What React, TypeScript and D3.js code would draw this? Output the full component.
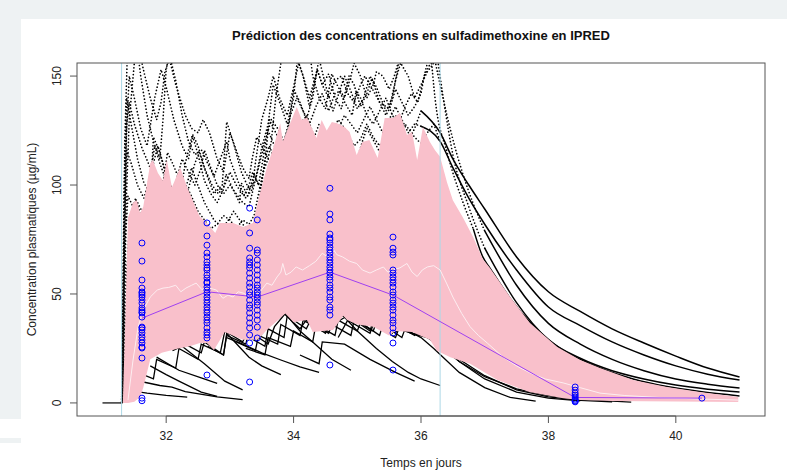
import React from 'react';
import * as d3 from 'd3';

type P = [number, number];

const chartTitle = 'Prédiction des concentrations en sulfadimethoxine en IPRED';
const xLabel = 'Temps en jours';
const yLabel = 'Concentration plasmatiques (µg/mL)';
const xTicks = [32, 34, 36, 38, 40];
const yTicks = [0, 50, 100, 150];
const doseWindow = [31.3, 36.3];
const preDoseLine: P[] = [[31.0, 0], [31.3, 0]];

// 90% prediction interval (upper and lower bounds)
const piUpper: P[] = [[31.32,0],[31.36,40],[31.40,85],[31.48,92],[31.54,93],[31.59,87],[31.64,90],[31.75,110],[31.79,111.5],[31.87,105.5],[31.95,102],[32.01,111.5],[32.09,99],[32.22,108],[32.33,99],[32.48,88.5],[32.53,85.4],[32.64,82.6],[32.77,78],[32.84,82.6],[33.05,82.6],[33.21,80.7],[33.36,82.6],[33.47,96],[33.58,108],[33.68,117],[33.79,128.4],[33.83,120],[33.90,125],[34.05,135.8],[34.13,129.8],[34.21,131],[34.36,121.6],[34.44,129.8],[34.52,125],[34.60,128.9],[34.68,128.4],[34.80,126.6],[34.88,124.3],[34.99,113.8],[35.08,119.8],[35.19,120.7],[35.32,112.4],[35.43,130.8],[35.56,130.8],[35.67,133],[35.78,123],[35.86,124.3],[35.94,111.5],[36.03,126.6],[36.14,119.8],[36.22,116],[36.30,113],[36.41,101],[36.50,93],[36.66,85],[36.82,76],[36.97,66],[37.08,62],[37.40,48.6],[37.71,36.7],[38.14,25.7],[38.50,19.7],[38.81,16],[39.33,10.5],[39.86,7.3],[40.38,5],[40.98,2.7]];
const piLower: P[] = [[31.32,0],[31.40,0],[31.50,0.5],[31.59,2.7],[31.64,7],[31.75,20],[31.93,23],[32.19,25],[32.37,26],[32.53,27.5],[32.64,27.5],[32.75,24.3],[32.92,32.6],[33.20,29],[33.43,29],[33.58,33.5],[33.83,40],[33.87,41],[34.00,37],[34.21,38],[34.30,32.5],[34.62,33.5],[34.78,40],[34.84,38],[35.00,36],[35.25,35],[35.50,31],[35.60,33],[35.86,32.6],[36.14,29],[36.25,24],[36.46,21],[36.77,18],[37.20,10.5],[37.70,5],[38.23,2.2],[38.50,1.3],[39.00,0.9],[40.00,0.6],[40.98,0.4]];

// median of predictions
const predMedian: P[] = [[31.40,1.3],[31.48,19.7],[31.56,35],[31.64,42.6],[31.75,48.6],[31.86,51.8],[31.95,52.7],[32.04,53],[32.15,54],[32.23,51],[32.31,52.7],[32.40,54],[32.47,55],[32.56,52],[32.64,53],[32.79,51.8],[32.89,48],[32.97,49.5],[33.05,48.6],[33.13,51],[33.21,50.4],[33.32,48.5],[33.43,49.5],[33.50,52],[33.58,55],[33.66,54],[33.74,57.8],[33.80,60],[33.83,64],[33.88,58.7],[33.96,60],[34.04,62.4],[34.14,61],[34.25,63],[34.35,65],[34.45,68.7],[34.53,67],[34.61,71],[34.68,68],[34.77,67],[34.88,65],[34.99,64],[35.08,61],[35.20,59.6],[35.30,61],[35.41,62.4],[35.48,60],[35.56,61],[35.67,62],[35.78,64],[35.86,60],[35.94,58],[36.02,61],[36.10,62.4],[36.20,63],[36.30,61],[36.40,55],[36.50,48.6],[36.64,41],[36.77,35],[36.90,31],[37.04,27.5],[37.29,21],[37.50,17],[37.71,13.8],[37.95,11],[38.23,9.2],[38.50,7],[38.81,4.5],[39.20,3.4],[39.80,2.4],[40.38,1.8],[40.98,1.3]];

// observed concentrations
const obsTimes = [31.62, 32.64, 33.31, 33.43, 34.57, 35.56, 38.42, 40.41];
const obsDay31: number[] = [73.4,65.1,56.4,52.7,50.9,50.4,49.5,48.6,47.2,45.8,43.6,42.6,41.7,41.3,39.4,34.8,34.4,33.5,32.1,30.3,28.9,27.5,25.6,25.2,20.6,2.2,1.0];
const obsDay32: number[] = [82.6,76.6,72.4,68.8,67,64.7,63.3,61.9,61,58.7,57.3,55.5,55,53.2,51.8,50.4,48.6,47.2,45.8,44,42.6,41.3,39.4,38,36.7,34.4,32.5,31.2,29.8,12.8];
const obsDay33a: number[] = [89.4,78,71,66.5,64.7,63.3,61.9,59.6,57.3,55,53.2,50.9,49.5,47.2,44.9,43.5,41.3,39,36.7,34.4,31.2,27.5,9.6];
const obsDay33b: number[] = [84,70.2,68.8,65.6,63.3,61,58.7,56.4,54.1,52.7,50.9,49.5,48.1,46.3,44.9,42.6,40.3,38,34.8,29.8];
const obsDay34: number[] = [98.5,86.7,84,77.5,75.7,74.8,73.4,71.5,70.2,68.8,67,65.6,64.2,62.4,61,59.6,57.8,56.4,54.1,52.7,50.9,48.6,47.2,44,42.6,40.3,17.4];
const obsDay35: number[] = [76.1,71,69.2,67.9,61,59.6,57.8,56.4,55,53.2,50.9,49.5,47.2,45.8,44,42.6,40.3,38,36.7,34.4,32.1,27.5,15.1];
const obsDay38: number[] = [7.3,5.9,4.5,3.6,2.7,1.8,1.2,0.8,0.5];
const obsDay40: number[] = [2.2];
const obsValues = [obsDay31, obsDay32, obsDay33a, obsDay33b, obsDay34, obsDay35, obsDay38, obsDay40];
const obsMedian: P[] = [[31.62,38.9],[32.64,51],[33.43,48.6],[34.57,60],[35.56,49.5],[38.42,2.5],[40.41,2.2]];

// individual predicted profiles (high)
const indivU1: P[] = [[31.30,0],[31.34,100],[31.38,140],[31.45,128],[31.55,112],[31.65,101],[31.75,96],[31.80,110],[31.87,118],[31.95,110],[32.05,100],[32.15,94],[32.25,90],[32.32,100],[32.40,108],[32.47,102],[32.60,92],[32.75,84],[32.88,80],[32.98,84],[33.06,88],[33.20,82],[33.35,78],[33.45,90],[33.55,112],[33.62,118],[33.75,108],[33.85,104],[33.95,120],[34.03,130],[34.15,122],[34.30,114],[34.45,110],[34.55,120],[34.62,128],[34.75,122],[34.90,116],[35.00,112],[35.08,120],[35.15,126],[35.30,118],[35.45,110],[35.55,114],[35.65,124],[35.75,128],[35.90,122],[36.00,119],[36.10,124],[36.20,128],[36.30,120]];
const indivU2: P[] = [[31.32,0],[31.37,120],[31.42,150],[31.50,140],[31.60,126],[31.70,118],[31.82,140],[31.92,153],[32.00,145],[32.12,130],[32.25,118],[32.35,112],[32.42,123],[32.50,118],[32.62,106],[32.75,96],[32.88,100],[32.95,129],[33.05,120],[33.18,106],[33.30,98],[33.40,102],[33.50,117],[33.60,128],[33.68,146],[33.78,138],[33.90,128],[34.00,140],[34.06,158],[34.15,150],[34.25,136],[34.35,150],[34.40,158],[34.50,146],[34.62,134],[34.72,143],[34.80,150],[34.90,143],[35.00,135],[35.10,140],[35.20,150],[35.30,145],[35.45,134],[35.55,140],[35.65,156],[35.70,162]];
const indivU3: P[] = [[31.31,0],[31.35,70],[31.40,95],[31.48,90],[31.52,94],[31.60,86],[31.70,82],[31.76,100],[31.80,122],[31.90,115],[32.00,104],[32.10,98],[32.20,92],[32.30,110],[32.41,123],[32.50,114],[32.60,102],[32.70,96],[32.80,92],[32.90,98],[32.94,105],[33.05,98],[33.15,92],[33.18,101],[33.28,95],[33.38,105],[33.48,98],[33.55,110],[33.60,125],[33.70,118],[33.80,112],[33.90,110],[34.00,118],[34.10,128],[34.21,132],[34.30,124],[34.40,118],[34.50,116],[34.60,124],[34.70,130],[34.80,126],[34.95,118],[35.05,121],[35.15,128],[35.25,122],[35.35,118],[35.50,125],[35.60,132],[35.70,126],[35.80,120],[35.90,126],[36.00,134]];
const indivU4: P[] = [[31.33,0],[31.37,90],[31.42,130],[31.50,156],[31.55,162],[31.60,150],[31.70,132],[31.80,120],[31.90,112],[31.95,130],[32.00,153],[32.05,160],[32.15,148],[32.25,132],[32.35,120],[32.45,114],[32.56,116],[32.65,110],[32.75,104],[32.85,112],[32.95,120],[33.00,112],[33.15,100],[33.25,94],[33.35,98],[33.40,110],[33.50,130],[33.60,140],[33.68,150],[33.78,140],[33.90,132],[34.00,145],[34.08,156],[34.15,150],[34.25,140],[34.37,153],[34.45,146],[34.55,151],[34.65,140],[34.75,135],[34.87,150],[34.95,146],[35.05,136],[35.15,142],[35.23,149],[35.35,138],[35.50,135],[35.60,148],[35.68,156],[35.80,150],[35.90,140],[36.00,146],[36.10,152],[36.20,156],[36.25,160]];
const indivU5: P[] = [[31.34,0],[31.38,60],[31.42,80],[31.50,88],[31.55,92],[31.62,88],[31.72,84],[31.80,88],[31.88,92],[31.95,86],[32.05,82],[32.15,80],[32.22,92],[32.30,100],[32.38,96],[32.50,88],[32.60,84],[32.70,80],[32.80,82],[32.90,86],[33.00,84],[33.10,80],[33.20,84],[33.30,82],[33.38,86],[33.45,96],[33.52,106],[33.60,112],[33.70,108],[33.80,104],[33.90,112],[34.00,126],[34.10,120],[34.20,114],[34.30,120],[34.40,128],[34.50,124],[34.60,118],[34.70,126],[34.80,132],[34.90,128],[35.00,124],[35.10,130],[35.20,136],[35.30,130],[35.40,124],[35.50,130],[35.60,136],[35.70,130],[35.80,124],[35.90,128],[36.00,127]];
const indivU6: P[] = [[31.30,0],[31.34,80],[31.38,116],[31.45,110],[31.55,100],[31.65,94],[31.75,104],[31.82,118],[31.90,110],[32.00,102],[32.10,96],[32.17,103],[32.25,112],[32.35,106],[32.45,100],[32.55,108],[32.60,116],[32.70,108],[32.80,100],[32.90,96],[33.00,100],[33.10,96],[33.20,92],[33.30,90],[33.38,100],[33.45,108],[33.55,120],[33.65,130],[33.75,126],[33.85,120],[33.95,132],[34.05,140],[34.15,134],[34.25,128],[34.35,136],[34.45,142],[34.55,134],[34.65,142],[34.72,143],[34.82,137],[34.92,132],[34.98,143],[35.05,140],[35.15,132],[35.25,128],[35.35,134],[35.45,140],[35.55,132],[35.65,128],[35.75,136],[35.85,142],[35.95,138],[36.05,150],[36.15,156],[36.20,160]];
const indivU7: P[] = [[31.32,0],[31.35,90],[31.38,128],[31.42,138],[31.50,128],[31.62,117],[31.72,110],[31.80,104],[31.90,98],[31.97,104],[32.02,115],[32.10,110],[32.20,103],[32.33,96],[32.45,110],[32.52,115],[32.60,108],[32.72,100],[32.82,96],[32.92,100],[33.00,106],[33.10,100],[33.22,95],[33.30,100],[33.36,106],[33.45,100],[33.52,112],[33.62,130],[33.72,124],[33.82,118],[33.92,126],[34.00,144],[34.10,138],[34.20,130],[34.30,140],[34.37,153],[34.45,146],[34.55,140],[34.65,148],[34.75,150],[34.85,142],[34.95,138],[35.05,146],[35.12,150],[35.22,145],[35.35,138],[35.45,132],[35.52,136],[35.60,144],[35.70,138],[35.80,132],[35.90,136],[36.00,142],[36.05,150],[36.10,156],[36.15,162]];
const indivU8: P[] = [[31.31,0],[31.35,120],[31.39,160],[31.55,165],[31.65,152],[31.75,140],[31.85,130],[31.92,138],[31.98,152],[32.05,158],[32.15,146],[32.30,132],[32.40,126],[32.50,124],[32.58,130],[32.68,124],[32.80,112],[32.90,106],[32.97,118],[33.00,124],[33.10,116],[33.20,108],[33.30,103],[33.35,112],[33.42,122],[33.50,118],[33.60,112],[33.65,120],[33.72,140],[33.80,156],[33.85,162],[34.25,162],[34.30,150],[34.40,140],[34.50,135],[34.55,143],[34.60,151],[34.70,145],[34.80,140],[34.90,150],[34.95,156],[35.05,150],[35.15,140],[35.25,146],[35.30,152],[35.40,150],[35.50,144],[35.58,150],[35.66,158],[35.70,162]];

// elimination phase after the last dose
const tail1: P[] = [[36.0,134],[36.3,124],[36.5,112],[36.75,100],[37.0,89],[37.5,67],[38.0,51],[38.5,42],[39.0,34],[39.5,27.5],[40.0,21.5],[40.5,16],[41.0,11.9]];
const tail2: P[] = [[36.0,127],[36.3,120],[36.5,108],[36.75,94],[37.0,82],[37.5,61],[38.0,44],[38.5,35.5],[39.0,28],[39.5,22],[40.0,17],[40.5,13.2],[41.0,10.5]];
const tail3: P[] = [[36.2,160],[36.3,146],[36.5,121],[36.75,97],[37.0,79],[37.5,54],[38.0,36.5],[38.5,27],[39.0,20],[39.5,14.8],[40.0,11],[40.5,8.6],[41.0,6.8]];
const tail4: P[] = [[36.25,160],[36.35,140],[36.5,114],[36.75,90],[37.0,71],[37.5,46],[38.0,29],[38.5,20.5],[39.0,14.8],[39.5,11],[40.0,8.2],[40.5,6.3],[41.0,5]];
const tail5: P[] = [[36.15,162],[36.22,140],[36.41,115],[36.66,92],[36.82,80],[36.97,67],[37.08,62],[37.40,48],[37.71,37],[38.14,26],[38.5,20],[38.81,16],[39.33,11],[39.86,7.5],[40.38,5.2],[41.0,3.2]];

// individual predicted profiles (low)
const indivLA: P[] = [[31.55,14],[31.80,11],[31.85,20],[32.15,16],[32.20,25],[32.50,20],[32.55,27],[32.85,23],[32.92,33],[33.20,28],[33.25,31],[33.55,26],[33.60,34],[33.85,30],[33.90,40],[34.20,34],[34.25,37],[34.55,32],[34.60,36],[34.90,31],[34.95,38],[35.25,33],[35.30,37],[35.60,32],[35.65,35],[35.90,31],[35.95,33],[36.30,26],[36.60,19],[37.00,12],[37.50,6.5],[38.00,3.4],[38.50,1.6],[39.30,0.4]];
const indivLB: P[] = [[31.64,9.6],[31.90,8],[32.09,7.3],[32.30,5.2],[32.80,2.8],[33.20,1.5]];
const indivLC: P[] = [[31.59,5],[31.70,4.5],[32.00,3.5],[32.33,2.7]];
const indivLD: P[] = [[31.75,17],[32.00,13],[32.20,10],[32.55,5],[32.80,3]];
const indivLE: P[] = [[31.85,21],[32.20,15],[32.55,11.5],[32.80,9]];
const indivLF: P[] = [[32.10,24],[32.25,26],[32.60,18],[32.92,10],[33.20,6]];
const indivLG: P[] = [[32.30,27],[32.55,23],[32.60,28],[32.90,22],[32.95,32],[33.30,21],[33.50,17],[33.80,13]];
const indivLH: P[] = [[32.65,26],[32.90,22],[32.95,31],[33.25,27],[33.30,33],[33.60,27],[33.70,35],[33.87,41],[34.10,33],[34.30,28],[34.60,20],[34.90,15]];
const indivLI: P[] = [[33.10,28],[33.40,24],[33.45,31],[33.75,27],[33.80,36],[34.10,31],[34.15,38],[34.45,33],[34.50,37],[34.78,40],[35.00,33],[35.30,25],[35.55,19],[35.80,14],[36.00,11],[36.30,8]];
const indivLJ: P[] = [[33.25,25],[33.55,22],[33.60,30],[33.95,26],[34.00,33],[34.30,28],[34.35,36],[34.65,31],[34.70,38],[35.00,33],[35.05,37],[35.35,31],[35.40,36],[35.70,30],[35.75,34],[36.00,30],[36.20,25],[36.60,14],[37.00,7],[37.40,2.5],[37.80,0.8]];
const indivLK: P[] = [[33.45,30],[33.60,35],[33.85,41],[34.10,34],[34.20,38],[34.50,32],[34.55,35],[34.85,40],[35.20,33],[35.25,38],[35.55,32],[35.60,36],[35.85,32],[36.10,30],[36.30,28],[36.60,20],[37.00,12.5],[37.50,6],[38.00,2.8],[38.50,1.2],[39.00,0.5]];
const indivLL: P[] = [[34.10,22],[34.40,18],[34.45,28],[34.80,27],[35.20,20],[35.60,14],[35.90,10]];
const indivLM: P[] = [[34.70,30],[34.85,38],[35.20,32],[35.25,36],[35.60,30],[35.65,34],[35.95,31],[36.00,33],[36.30,28],[36.60,19],[37.00,11],[37.50,5],[38.00,2.2],[38.50,0.9]];
const indivLN: P[] = [[32.95,30],[33.20,27],[33.50,23],[33.80,19.7],[34.10,16.5],[34.40,14]];

const upperProfiles = [indivU1, indivU2, indivU3, indivU4, indivU5, indivU6, indivU7, indivU8];
const tailsSolid = [tail1, tail2];
const tailsSteep = [tail3, tail4, tail5];
const lowerProfiles = [indivLA, indivLB, indivLC, indivLD, indivLE, indivLF, indivLG, indivLH, indivLI, indivLJ, indivLK, indivLL, indivLM, indivLN];

const W = 787;
const H = 471;
const plotL = 77, plotR = 765, plotT = 63, plotB = 416;
const font = 'Liberation Sans, Arial, Helvetica, sans-serif';
const dotDash = '0 3.4';

export default function App() {
  const x = d3.scaleLinear().domain([30.6, 41.4]).range([plotL, plotR]);
  const y = d3.scaleLinear().domain([-6, 156]).range([plotB, plotT]);
  const line = d3.line<P>().x(d => x(d[0])).y(d => y(d[1]));
  const smooth = d3.line<P>().x(d => x(d[0])).y(d => y(d[1])).curve(d3.curveMonotoneX);
  const band = line(piUpper.concat(piLower.slice().reverse())) + 'Z';

  const splitAt = 36.8;
  const steepPart = (c: P[]) => {
    const i = c.findIndex(p => p[0] >= splitAt);
    return c.slice(0, i + 1);
  };
  const flatPart = (c: P[]) => {
    const i = c.findIndex(p => p[0] >= splitAt);
    return c.slice(i);
  };

  return (
    <div style={{ position: 'absolute', left: 0, top: 0 }}>
      <svg width={W} height={H} style={{ display: 'block' }}>
        <rect x={0} y={0} width={W} height={H} fill="#ffffff" />
        <rect x={0} y={0} width={W} height={19} fill="#eef2f3" />
        <rect x={0} y={0} width={21} height={419} fill="#eef2f3" />
        <rect x={0} y={438} width={21} height={5} fill="#eef2f3" />
        <defs>
          <clipPath id="plotClip">
            <rect x={plotL} y={plotT} width={plotR - plotL} height={plotB - plotT} />
          </clipPath>
        </defs>
        <text x={(plotL + plotR) / 2} y={40} textAnchor="middle" fontFamily={font} fontSize={13} fontWeight="bold" fill="#111">{chartTitle}</text>
        <g clipPath="url(#plotClip)">
          {lowerProfiles.map((c, i) => (
            <path key={'l' + i} d={line(c) || ''} fill="none" stroke="#000" strokeWidth={1.3} />
          ))}
          {upperProfiles.map((c, i) => (
            <path key={'u' + i} d={line(c) || ''} fill="none" stroke="#000" strokeWidth={1.7} strokeDasharray={dotDash} strokeDashoffset={i * 0.4} strokeLinecap="round" />
          ))}
          {tailsSolid.map((c, i) => (
            <path key={'ts' + i} d={smooth(c) || ''} fill="none" stroke="#000" strokeWidth={1.5} />
          ))}
          {tailsSteep.map((c, i) => (
            <g key={'tp' + i}>
              <path d={smooth(steepPart(c)) || ''} fill="none" stroke="#000" strokeWidth={1.7} strokeDasharray={dotDash} strokeLinecap="round" />
              <path d={smooth(flatPart(c)) || ''} fill="none" stroke="#000" strokeWidth={1.5} />
            </g>
          ))}
          <path d={line(preDoseLine) || ''} fill="none" stroke="#000" strokeWidth={1.2} />
          <path d={band} fill="#f9c0cb" stroke="none" />
          {doseWindow.map(t => (
            <line key={'v' + t} x1={x(t)} x2={x(t)} y1={plotT} y2={plotB} stroke="#add8e6" strokeWidth={1} />
          ))}
          <path d={line(predMedian) || ''} fill="none" stroke="#fdeef1" strokeWidth={1} />
          <path d={line(obsMedian) || ''} fill="none" stroke="#a040f0" strokeWidth={1} />
          {obsValues.map((vals, j) => vals.map((v, k) => (
            <circle key={'o' + j + '-' + k} cx={x(obsTimes[j])} cy={y(v)} r={3} fill="none" stroke="#0000ff" strokeWidth={1} />
          )))}
        </g>
        <rect x={plotL} y={plotT} width={plotR - plotL} height={plotB - plotT} fill="none" stroke="#555" strokeWidth={1} />
        <g>
          <line x1={x(xTicks[0])} x2={x(xTicks[xTicks.length - 1])} y1={plotB} y2={plotB} stroke="#555" />
          {xTicks.map(t => (
            <g key={'xt' + t}>
              <line x1={x(t)} x2={x(t)} y1={plotB} y2={plotB + 7} stroke="#555" />
              <text x={x(t)} y={440} textAnchor="middle" fontFamily={font} fontSize={12} fill="#222">{t}</text>
            </g>
          ))}
          <text x={(plotL + plotR) / 2} y={467} textAnchor="middle" fontFamily={font} fontSize={12} fill="#222">{xLabel}</text>
        </g>
        <g>
          {yTicks.map(v => (
            <g key={'yt' + v}>
              <line x1={plotL - 7} x2={plotL} y1={y(v)} y2={y(v)} stroke="#555" />
              <text transform={`translate(${plotL - 16},${y(v)}) rotate(-90)`} textAnchor="middle" fontFamily={font} fontSize={12} fill="#222">{v}</text>
            </g>
          ))}
          <text transform={`translate(36,${(plotT + plotB) / 2}) rotate(-90)`} textAnchor="middle" fontFamily={font} fontSize={12} fill="#222">{yLabel}</text>
        </g>
      </svg>
    </div>
  );
}
